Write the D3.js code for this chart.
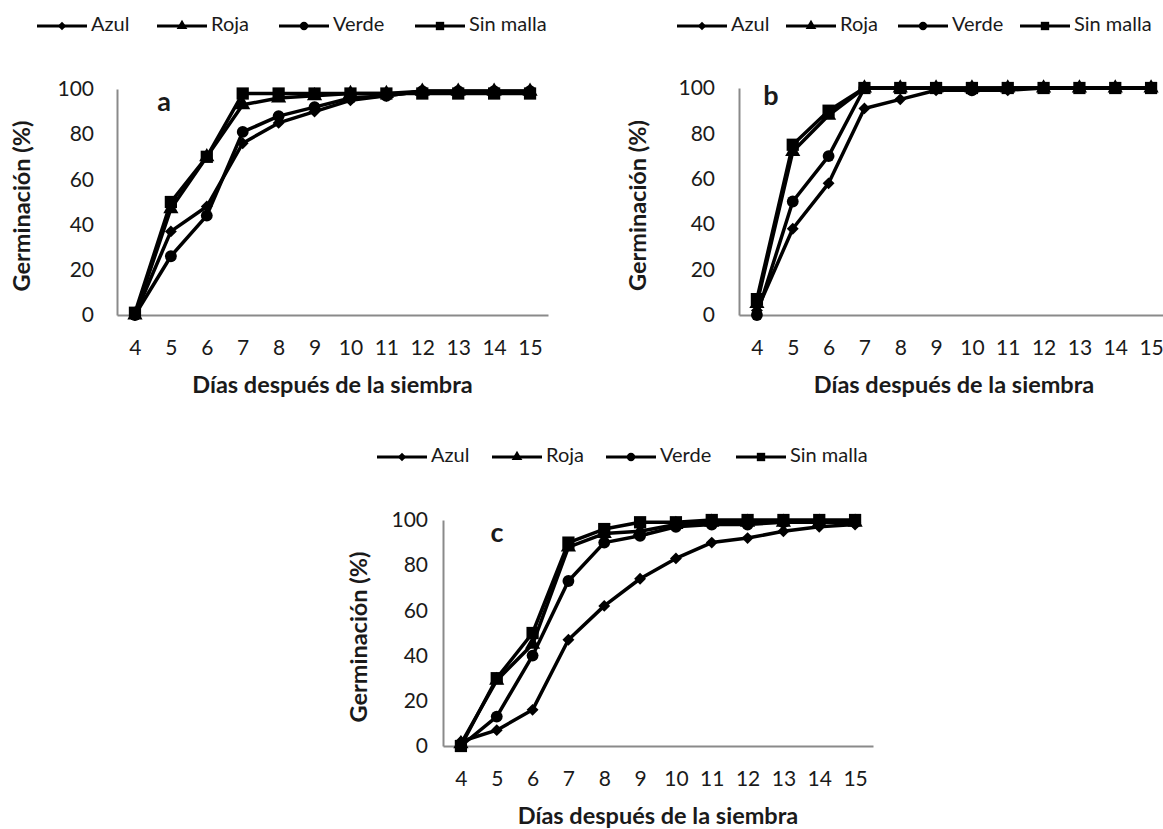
<!DOCTYPE html>
<html>
<head>
<meta charset="utf-8">
<script src="https://cdn.jsdelivr.net/npm/d3@7"></script>
<style>
  html, body { margin: 0; padding: 0; background: #fff; }
  svg { display: block; }
  text { font-family: Lato, "Open Sans", sans-serif; fill: #1a1a1a; }
</style>
</head>
<body>
<svg id="chart" width="1163" height="829"></svg>
<script>
// ---- data ----
const days = [4, 5, 6, 7, 8, 9, 10, 11, 12, 13, 14, 15];
const seriesNames = ["Azul", "Roja", "Verde", "Sin malla"];
const yTicks = [0, 20, 40, 60, 80, 100];

const aAzul  = [0, 37, 48, 76, 85, 90, 95, 97, 99, 99, 99, 99];
const aRoja  = [0, 47, 70, 93, 96, 97, 98, 98, 99, 99, 99, 99];
const aVerde = [0, 26, 44, 81, 88, 92, 96, 97, 99, 99, 99, 99];
const aSin   = [1, 50, 70, 98, 98, 98, 98, 98, 98, 98, 98, 98];

const bAzul  = [2, 38, 58, 91, 95, 99, 99, 99, 100, 100, 100, 100];
const bRoja  = [5, 72, 88, 100, 100, 100, 100, 100, 100, 100, 100, 100];
const bVerde = [0, 50, 70, 100, 100, 100, 99, 100, 100, 100, 100, 100];
const bSin   = [7, 75, 90, 100, 100, 100, 100, 100, 100, 100, 100, 100];

const cAzul  = [2, 7, 16, 47, 62, 74, 83, 90, 92, 95, 97, 98];
const cRoja  = [1, 29, 45, 88, 94, 95, 98, 99, 99, 99, 99, 99];
const cVerde = [0, 13, 40, 73, 90, 93, 97, 98, 98, 99, 99, 99];
const cSin   = [0, 30, 50, 90, 96, 99, 99, 100, 100, 100, 100, 100];

const panelLetters = ["a", "b", "c"];
const xTitle = "Días después de la siembra";
const yTitle = "Germinación (%)";

// ---- layout ----
const panels = [
  { letter: panelLetters[0], series: [aAzul, aRoja, aVerde, aSin],
    x0: 117, x1: 548, yTop: 89, yBot: 315, yPad: 23,
    letterX: 164, letterY: 104, yTitleX: 24,
    legendY: 26, legendX: [37, 157, 279, 415] },
  { letter: panelLetters[1], series: [bAzul, bRoja, bVerde, bSin],
    x0: 739, x1: 1169, yTop: 88, yBot: 315, yPad: 24,
    letterX: 771, letterY: 98, yTitleX: 640,
    legendY: 26, legendX: [677, 786, 898, 1020] },
  { letter: panelLetters[2], series: [cAzul, cRoja, cVerde, cSin],
    x0: 443, x1: 873, yTop: 520, yBot: 746, yPad: 15,
    letterX: 497, letterY: 535, yTitleX: 361,
    legendY: 457, legendX: [377, 492, 606, 736] }
];

const svg = d3.select("#chart");
const axisColor = "#8a8a8a";
const symbols = [d3.symbolDiamond2, d3.symbolTriangle, d3.symbolCircle, d3.symbolSquare];
const symSizes = [90, 100, 110, 150];
const legSizes = [45, 50, 55, 70];

panels.forEach(p => {
  const g = svg.append("g");
  const x = d3.scalePoint().domain(days).range([p.x0, p.x1]).padding(0.5);
  const y = d3.scaleLinear().domain([0, 100]).range([p.yBot, p.yTop]);

  // x axis
  const xa = g.append("g").attr("transform", `translate(0,${p.yBot})`)
    .call(d3.axisBottom(x).tickSize(0).tickSizeOuter(0).tickPadding(25));
  xa.select(".domain").attr("stroke", axisColor).attr("stroke-width", 2);
  xa.selectAll("text").attr("font-size", 21).attr("fill", "#1a1a1a")
    .style("font-family", "Lato, sans-serif");

  // y axis
  const ya = g.append("g").attr("transform", `translate(${p.x0},0)`)
    .call(d3.axisLeft(y).tickValues(yTicks).tickSize(0).tickSizeOuter(0).tickPadding(p.yPad));
  ya.select(".domain").attr("stroke", axisColor).attr("stroke-width", 2);
  ya.selectAll("text").attr("font-size", 21).attr("fill", "#1a1a1a")
    .style("font-family", "Lato, sans-serif");

  // titles
  g.append("text").attr("x", (p.x0 + p.x1) / 2).attr("y", p.yBot + 72)
    .attr("text-anchor", "middle").attr("dominant-baseline", "middle")
    .attr("font-size", 23.5).attr("font-weight", "bold").text(xTitle);
  g.append("text").attr("transform", `translate(${p.yTitleX},${(p.yTop + p.yBot) / 2 + 4}) rotate(-90)`)
    .attr("text-anchor", "middle").attr("dominant-baseline", "middle")
    .attr("font-size", 23.5).attr("font-weight", "bold").text(yTitle);
  g.append("text").attr("x", p.letterX).attr("y", p.letterY)
    .attr("text-anchor", "middle").attr("dominant-baseline", "middle")
    .attr("font-size", 27).attr("font-weight", "bold").text(p.letter);

  // series
  const line = d3.line().x((d, i) => x(days[i])).y(d => y(d));
  p.series.forEach((vals, si) => {
    const sg = g.append("g");
    sg.append("path").datum(vals).attr("d", line)
      .attr("fill", "none").attr("stroke", "#000").attr("stroke-width", 3.5)
      .attr("stroke-linejoin", "round");
    sg.selectAll("path.m").data(vals).join("path").attr("class", "m")
      .attr("transform", (d, i) => `translate(${x(days[i])},${y(d)})`)
      .attr("d", d3.symbol().type(symbols[si]).size(symSizes[si]))
      .attr("fill", "#000");
  });

  // legend
  seriesNames.forEach((name, si) => {
    const lx = p.legendX[si];
    const lg = g.append("g").attr("transform", `translate(${lx},${p.legendY})`);
    lg.append("line").attr("x1", 0).attr("x2", 50).attr("y1", 0).attr("y2", 0)
      .attr("stroke", "#000").attr("stroke-width", 3);
    lg.append("path").attr("transform", "translate(25,0)")
      .attr("d", d3.symbol().type(symbols[si]).size(legSizes[si])).attr("fill", "#000");
    lg.append("text").attr("x", 54).attr("y", 0).attr("dominant-baseline", "middle")
      .attr("font-size", 20).text(name);
  });
});
</script>
</body>
</html>
